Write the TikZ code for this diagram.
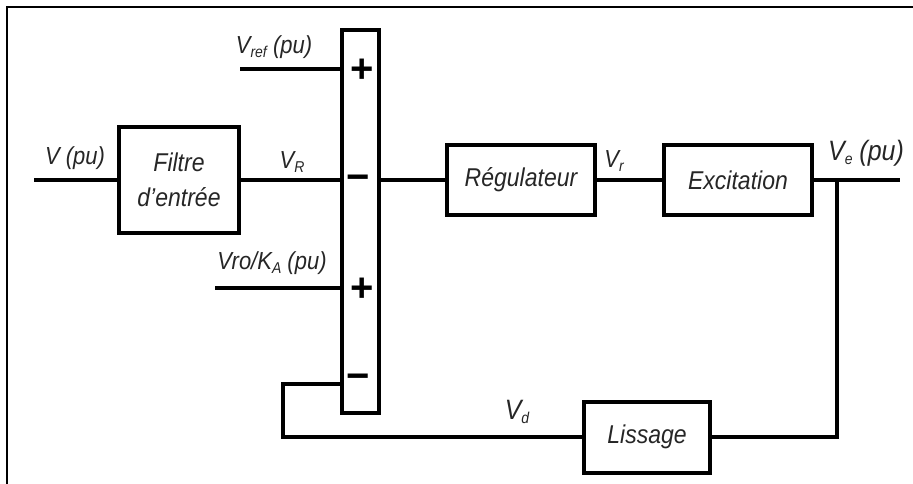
\documentclass[tikz,border=0pt]{standalone}
\usepackage{fontspec}
\setmainfont{Liberation Sans}
\newcommand{\lsub}[1]{\raisebox{-0.3ex}{\fontsize{14}{14}\selectfont #1}}
\newcommand{\tall}[1]{\scalebox{1}[1.12]{#1}}
\begin{document}
\begin{tikzpicture}[x=1pt,y=-1pt,
  blk/.style={draw=black, line width=4pt, inner sep=0pt, align=center,
    font=\fontsize{23}{35}\selectfont\itshape, text=black!85},
  wire/.style={line width=4pt},
  lbl/.style={inner sep=0pt, font=\fontsize{22}{26}\selectfont\itshape, text=black!85},
  biglbl/.style={inner sep=0pt, font=\fontsize{25}{28}\selectfont\itshape, text=black!85},
  sign/.style={inner sep=0pt, font=\fontsize{40}{40}\selectfont\bfseries}]
\useasboundingbox (0,0) rectangle (913,484);
% frame
\draw[line width=1.5pt] (7,484) -- (7,7) -- (913,7);
% blocks
\node[blk, minimum width=120pt, minimum height=105pt] (filt) at (179,180) {\tall{Filtre}\\\tall{d'entrée}};
\node[blk, minimum width=37pt, minimum height=382pt] (sum) at (360,221.5) {};
\node[blk, minimum width=148pt, minimum height=70pt] (reg) at (521,180) {\tall{Régulateur}};
\node[blk, minimum width=148pt, minimum height=70pt] (exc) at (738,180) {\tall{Excitation}};
\node[blk, minimum width=126pt, minimum height=71pt] (liss) at (647,437) {\tall{Lissage}};
% signs
\node[sign] (p1) at (362,71) {+};
\node[sign] (m1) at (358,183) {−};
\node[sign] (p2) at (362,290) {+};
\node[sign] (m2) at (358,382) {−};
% coordinates
\coordinate (vin) at (34,180);
\coordinate (vrefs) at (240,69);
\coordinate (vros) at (215,288);
\coordinate (fbc) at (283,384);
\coordinate (tap) at (837,180);
\coordinate (vout) at (900,180);
% wires
\draw[wire] (vin) -- (filt.west);
\draw[wire] (filt.east) -- (sum.west |- filt.east);
\draw[wire] (vrefs) -- (sum.west |- vrefs);
\draw[wire] (vros) -- (sum.west |- vros);
\draw[wire] (sum.east |- reg.west) -- (reg.west);
\draw[wire] (reg.east) -- (exc.west);
\draw[wire] (exc.east) -- (vout);
\draw[wire] (tap) |- (liss.east);
\draw[wire] (liss.west) -| (fbc) -- (sum.west |- fbc);
% labels
\node[lbl] (lv) at (75,158) {\tall{V (pu)}};
\node[lbl] (lvr) at (292,162) {\tall{V\lsub{R}}};
\node[lbl] (lvref) at (274,47) {\tall{V\lsub{ref} (pu)}};
\node[lbl] (lvro) at (272,263) {\tall{Vro/K\lsub{A} (pu)}};
\node[lbl] (lvrr) at (614,161) {\tall{V\lsub{r}}};
\node[biglbl] (lve) at (866,153) {\tall{V\lsub{e} (pu)}};
\node[biglbl] (lvd) at (517,412) {\tall{V\lsub{d}}};
\end{tikzpicture}
\end{document}
